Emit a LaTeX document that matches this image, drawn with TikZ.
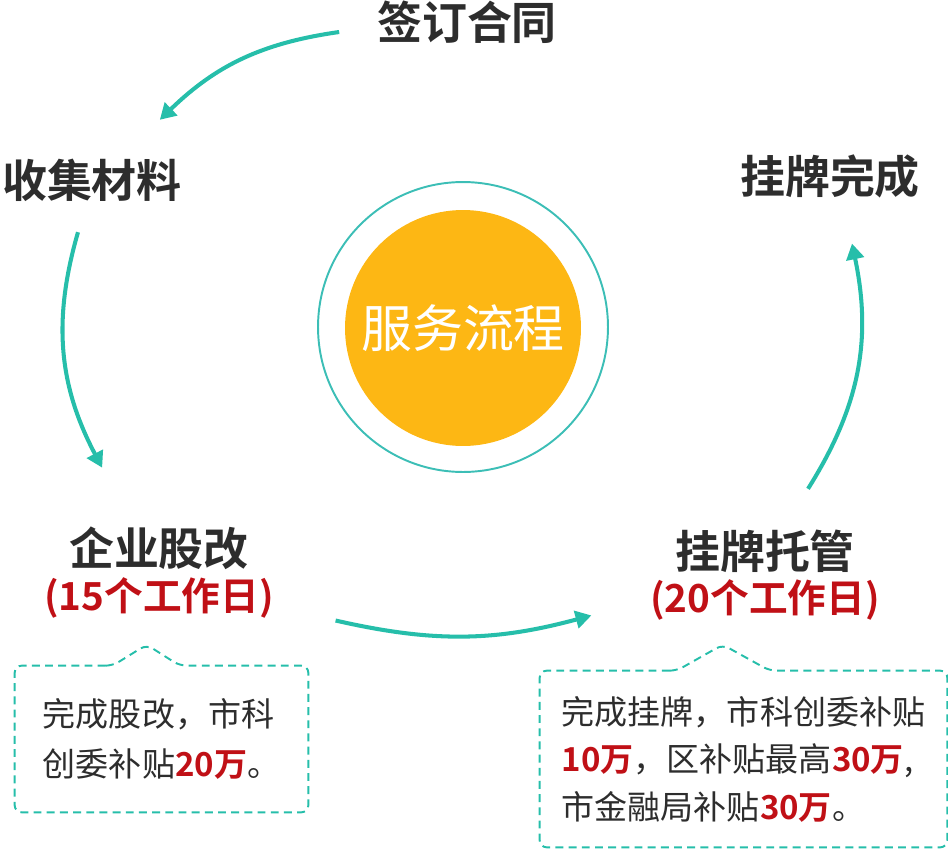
\documentclass[tikz,border=0pt]{standalone}
\usepackage{fontspec}
\newfontfamily\cjk{Noto Sans CJK SC}[BoldFont={Noto Sans CJK SC Bold}]
\usetikzlibrary{positioning}
\usetikzlibrary{arrows.meta}
\usetikzlibrary{calc}
\definecolor{flowteal}{RGB}{38,190,170}
\definecolor{ringteal}{RGB}{60,190,182}
\definecolor{sun}{RGB}{253,183,20}
\definecolor{ink}{RGB}{45,45,45}
\definecolor{darkred}{RGB}{192,16,22}
\newcommand{\hl}[1]{\textcolor{darkred}{\bfseries #1}}
\tikzstyle{stage} = [inner sep=2pt, text=ink, font=\cjk\bfseries\fontsize{25.6}{30}\selectfont]
\tikzstyle{days} = [inner sep=2pt, text=darkred, font=\cjk\bfseries\fontsize{22}{26}\selectfont]
\tikzstyle{flow} = [draw=flowteal, line width=2.3pt, -{Triangle[length=9pt,width=10pt]}]
\tikzstyle{note} = [inner sep=0pt, align=left, text=ink]
\tikzstyle{notebox} = [draw=flowteal, line width=1.1pt, dash pattern=on 4.5pt off 3pt, rounded corners=4pt]

\begin{document}
\begin{tikzpicture}[x=0.02cm, y=-0.02cm]
	\useasboundingbox (0,0) rectangle (948,849);

	% centre
	\node [circle, draw=ringteal, line width=1.1pt, minimum size=5.8cm] (ring) at (463,327) {};
	\node [circle, fill=sun, minimum size=4.72cm, text=white, font=\cjk\fontsize{29}{34}\selectfont] (hub) at (463,328) {服务流程};

	% stages
	\node [stage] (sign) at (467,22) {签订合同};
	\node [stage] (collect) at (92,180) {收集材料};
	\node [stage] (done) at (830,176) {挂牌完成};
	\node [stage] (reform) at (159,548) {企业股改};
	\node [days, node distance=0pt, below=of reform] (days1) {(15个工作日)};
	\node [stage] (listing) at (765,551) {挂牌托管};
	\node [days, node distance=0pt, below=of listing] (days2) {(20个工作日)};

	% notes
	\node [note, minimum width=5.86cm, minimum height=2.92cm, font=\cjk\fontsize{18.8}{28.5}\selectfont] (note1) at (161.5,739)
	{完成股改，市科\\创委补贴\hl{20万}。};
	\node [note, minimum width=8.14cm, minimum height=3.52cm, font=\cjk\fontsize{18.8}{27}\selectfont] (note2) at (743.5,759)
	{完成挂牌，市科创委补贴\\\hl{10万}，区补贴最高\hl{30万},\\市金融局补贴\hl{30万}。};

	\draw [notebox] ($(note1.north west)+(98,0)$) -- (note1.north west) -- (note1.south west) -- (note1.south east)
		-- (note1.north east) -- ($(note1.north west)+(165,0)$) -- ($(note1.north west)+(132,-21)$) -- cycle;
	\draw [notebox] ($(note2.north west)+(137,0)$) -- (note2.north west) -- (note2.south west) -- (note2.south east)
		-- (note2.north east) -- ($(note2.north west)+(230,0)$) -- ($(note2.north west)+(183,-26)$) -- cycle;

	% flow
	\draw [flow] ([shift={(-34,10)}]sign.west) to [bend right=18] ([shift={(-26,-35)}]collect.north east);
	\draw [flow] ([shift={(-14,27)}]collect.south) to [bend right=22] ([shift={(37,-55)}]reform.north west);
	\draw [flow] ([shift={(58,23)}]days1.east) to [bend right=14] ([shift={(-55,15)}]days2.west);
	\draw [flow] ([shift={(43,-37)}]listing.north) to [bend right=22] ([shift={(22,42)}]done.south);

\end{tikzpicture}
\end{document}
